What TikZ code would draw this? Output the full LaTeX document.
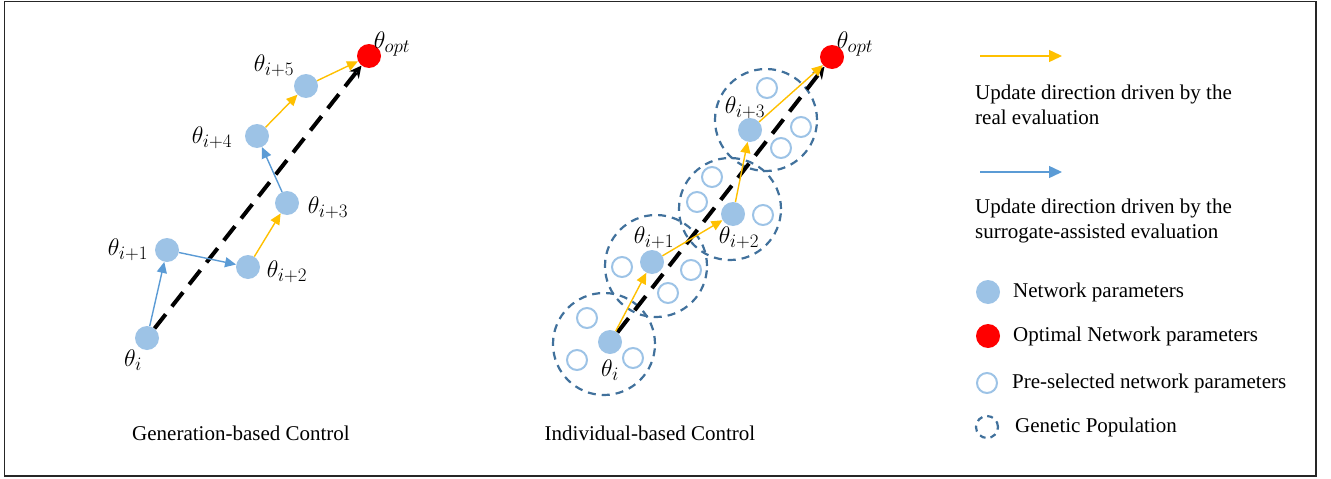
\RequirePackage{fix-cm}
\documentclass[tikz,border=0pt]{standalone}
\usepackage{fontspec}
\setmainfont{Liberation Serif}
\usetikzlibrary{arrows.meta}
\DeclareMathSizes{24}{24}{19}{15}
\definecolor{pblue}{HTML}{9DC3E6}
\definecolor{ayel}{HTML}{FFC000}
\definecolor{ablue}{HTML}{5B9BD5}
\definecolor{popc}{HTML}{41719C}
\begin{document}
\begin{tikzpicture}[x=1pt,y=-1pt,
  param/.style={circle,fill=pblue,minimum size=24pt,inner sep=0pt},
  optp/.style={circle,fill=red,minimum size=24pt,inner sep=0pt},
  pre/.style={circle,draw=pblue,line width=2pt,minimum size=20pt,inner sep=0pt},
  pop/.style={circle,draw=popc,line width=2.2pt,dash pattern=on 8pt off 6pt,minimum size=102pt,inner sep=0pt},
  realarr/.style={draw=ayel,line width=1.4pt,-{Triangle[length=11pt,width=10pt]}},
  surarr/.style={draw=ablue,line width=1.4pt,-{Triangle[length=11pt,width=10pt]}},
  bestarr/.style={draw=black,line width=4pt,dash pattern=on 18pt off 10pt,-{Stealth[length=12pt,width=12pt]}},
  lbl/.style={inner sep=0pt,font=\fontsize{24}{28}\selectfont},
  txt/.style={inner sep=0pt,font=\fontsize{21}{25}\selectfont,align=left},
]
\useasboundingbox (0,0) rectangle (1331,479);
\draw[line width=1.6pt,black!85] (4.5,1.5) rectangle (1316,476);

% ---------- left panel ----------
\node[param] (a0) at (147,338) {};
\node[param] (a1) at (167,250) {};
\node[param] (a2) at (248,267) {};
\node[param] (a3) at (287,203) {};
\node[param] (a4) at (257,136) {};
\node[param] (a5) at (306,86) {};
\node[optp] (aopt) at (369,56) {};
\node[lbl] (la0) at (133,360) {$\theta_i$};
\node[lbl] (la1) at (128,250) {$\theta_{i+1}$};
\node[lbl] (la2) at (287,272) {$\theta_{i+2}$};
\node[lbl] (la3) at (328,208) {$\theta_{i+3}$};
\node[lbl] (la4) at (212,138) {$\theta_{i+4}$};
\node[lbl] (la5) at (274,66) {$\theta_{i+5}$};
\node[lbl] (laopt) at (392,44) {$\theta_{opt}$};
\draw[bestarr] (a0) -- (aopt);
\draw[surarr] (a0) -- (a1);
\draw[surarr] (a1) -- (a2);
\draw[realarr] (a2) -- (a3);
\draw[surarr] (a3) -- (a4);
\draw[realarr] (a4) -- (a5);
\draw[realarr] (a5) -- (aopt);
\node[txt] (capa) at (241,433) {Generation-based Control};

% ---------- right panel ----------
\node[pop] (p0) at (604,344) {};
\node[pop] (p1) at (656,266) {};
\node[pop] (p2) at (730,209) {};
\node[pop] (p3) at (766,120) {};
\node[pre] (h01) at (587,318) {};
\node[pre] (h02) at (577,360) {};
\node[pre] (h03) at (633,358) {};
\node[pre] (h11) at (622,267) {};
\node[pre] (h12) at (691,270) {};
\node[pre] (h13) at (668,293) {};
\node[pre] (h21) at (712,177) {};
\node[pre] (h22) at (697,202) {};
\node[pre] (h23) at (763,215) {};
\node[pre] (h31) at (767,88) {};
\node[pre] (h32) at (801,127) {};
\node[pre] (h33) at (781,148) {};
\node[param] (b0) at (610,342) {};
\node[param] (b1) at (652,262) {};
\node[param] (b2) at (733,214) {};
\node[param] (b3) at (750,130) {};
\node[optp] (bopt) at (832,57) {};
\node[lbl] (lb0) at (610,370) {$\theta_i$};
\node[lbl] (lb1) at (654,238) {$\theta_{i+1}$};
\node[lbl] (lb2) at (739,238) {$\theta_{i+2}$};
\node[lbl] (lb3) at (745,108) {$\theta_{i+3}$};
\node[lbl] (lbopt) at (855,44) {$\theta_{opt}$};
\draw[bestarr] (b0) -- (bopt);
\draw[realarr] (b0) -- (b1);
\draw[realarr] (b1) -- (b2);
\draw[realarr] (b2) -- (b3);
\draw[realarr] (b3) -- (bopt);
\node[txt] (capb) at (650,433) {Individual-based Control};

% ---------- legend ----------
\coordinate (ly1) at (980,56);
\coordinate (ly2) at (1062,56);
\draw[realarr,-{Triangle[length=13pt,width=12pt]}] (ly1) -- (ly2);
\node[txt,anchor=west] (lt1) at (975,104.5) {Update direction driven by the\\real evaluation};
\coordinate (lb1s) at (980,172);
\coordinate (lb2s) at (1062,172);
\draw[surarr,-{Triangle[length=13pt,width=12pt]}] (lb1s) -- (lb2s);
\node[txt,anchor=west] (lt2) at (975,220.5) {Update direction driven by the\\surrogate-assisted evaluation};
\node[param] (lg1) at (988,292) {};
\node[txt,anchor=west] (lt3) at (1013,292) {Network parameters};
\node[optp] (lg2) at (988,336) {};
\node[txt,anchor=west] (lt4) at (1013,336) {Optimal Network parameters};
\node[pre] (lg3) at (987,383) {};
\node[txt,anchor=west] (lt5) at (1012,383) {Pre-selected network parameters};
\node[circle,draw=popc,line width=2.2pt,dash pattern=on 6pt off 5pt,minimum size=22pt,inner sep=0pt] (lg4) at (987,427) {};
\node[txt,anchor=west] (lt6) at (1015,427) {Genetic Population};
\end{tikzpicture}
\end{document}
